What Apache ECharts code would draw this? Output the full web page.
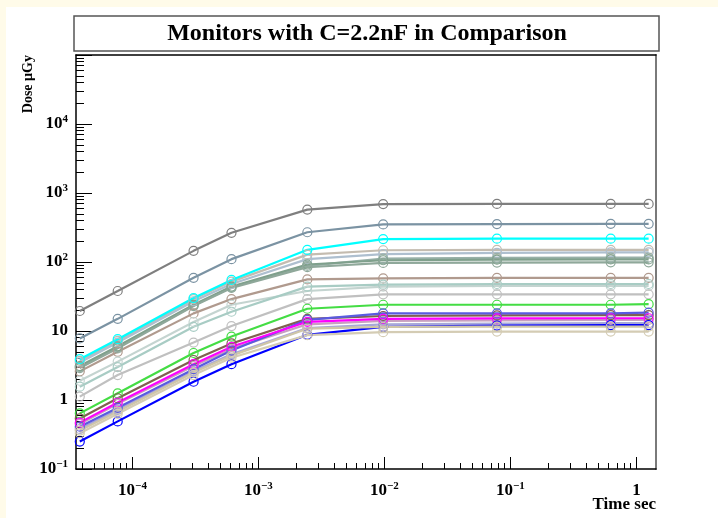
<!DOCTYPE html>
<html>
<head>
<meta charset="utf-8">
<title>Monitors with C=2.2nF in Comparison</title>
<script src="https://cdn.jsdelivr.net/npm/echarts@6/dist/echarts.min.js"></script>
<style>
html, body { margin: 0; padding: 0; background: #fffbe9; }
#chart { width: 718px; height: 518px; }
</style>
</head>
<body>
<div id="chart"></div>
<script>
// measurement times (s)
var times = [3.815e-5, 7.629e-5, 3.052e-4, 6.104e-4, 2.441e-3, 9.766e-3, 7.813e-2, 0.625, 1.25];

// dose per monitor (uGy), one array per curve
var monGray     = [19.5, 38, 145, 265, 575, 690, 695, 695, 695];
var monSlate    = [7.8, 15, 59, 110, 270, 350, 355, 358, 358];
var monCyan     = [3.9, 7.6, 30, 55, 150, 215, 218, 218, 218];
var monTan      = [3.7, 7.2, 29, 52, 128, 148, 150, 150, 150];
var monSteel    = [3.5, 6.8, 27, 48, 110, 130, 136, 138, 138];
var monSage     = [3.0, 5.8, 23.5, 43, 88, 112, 115, 116, 116];
var monSeaGray  = [3.1, 6.0, 24, 44, 92, 106, 108, 109, 109];
var monMoss     = [2.9, 5.6, 23, 42, 84, 97, 98, 99, 99];
var monRose     = [2.6, 5.0, 18, 29, 56, 58, 59, 59, 59];
var monTeal     = [1.56, 3.0, 11.5, 19, 44, 47, 48, 48, 48];
var monMist     = [1.9, 3.6, 13.5, 24, 38, 44, 45, 45, 45];
var monSilver   = [1.12, 2.3, 6.8, 11.8, 29, 34, 34, 34, 34];
var monGreen    = [0.64, 1.25, 4.8, 8.3, 21, 24, 24, 24, 24.5];
var monBlue     = [0.41, 0.77, 2.8, 5.2, 14.5, 18, 18, 18, 18.5];
var monBrown    = [0.54, 1.06, 3.8, 6.6, 15, 16.5, 16.8, 17, 17];
var monMagenta  = [0.47, 0.92, 3.3, 5.9, 13.6, 15, 15.2, 15.3, 15.3];
var monPink     = [0.45, 0.88, 3.1, 5.5, 12.5, 14, 14.3, 14.5, 14.5];
var monLavender = [0.38, 0.72, 2.6, 4.6, 11, 12.5, 12.8, 13, 13];
var monKhaki    = [0.36, 0.68, 2.5, 4.4, 10.8, 11.5, 11.6, 11.6, 11.6];
var monBeige    = [0.33, 0.63, 2.3, 4.1, 8.7, 9.6, 9.8, 9.8, 9.8];
var monDeepBlue = [0.25, 0.49, 1.84, 3.3, 8.8, 11.5, 12, 12.2, 12.2];

var curves = [monGray, monSlate, monTan, monSteel, monSage, monSeaGray, monMoss, monCyan,
              monRose, monMist, monTeal, monSilver, monGreen, monLavender, monPink, monBrown,
              monBlue, monMagenta, monDeepBlue, monKhaki, monBeige];
var colors = ['#7f7f7f', '#7b93a3', '#c4bcb0', '#aebfcf', '#98b0a8', '#7fa08c', '#8fa89a', '#00ffff',
              '#b09a8e', '#c4d4d0', '#a8ccc4', '#c0c0c0', '#44dd44', '#a8a8d8', '#c8a0c0', '#806050',
              '#5a5ae0', '#ff00ff', '#0000ff', '#cfc6a8', '#d4ccb4'];

// axis ranges and labelled decades (log10)
var xRange = [3.56e-5, 1.43];
var yRange = [0.1, 1e5];
var xMajor = [-4, -3, -2, -1, 0];
var yMajor = [-1, 0, 1, 2, 3, 4, 5];
var yLabels = [-1, 0, 1, 2, 3, 4];

var lg = function (v) { return Math.round(Math.log(v) / Math.LN10 * 1e9) / 1e9; };

function minorTicks(k0, k1) {
  var out = [];
  for (var k = k0; k <= k1; k++) {
    for (var m = 2; m <= 9; m++) out.push(lg(m) + k);
  }
  return out;
}
var xMinor = minorTicks(-5, 0);
var yMinor = minorTicks(-1, 4);

var serif = '"Liberation Serif", "DejaVu Serif", serif';

function powLabel(v) {
  v = Math.round(v);
  if (v === 0) return '{b|1}';
  if (v === 1) return '{b|10}';
  return '{b|10}{s|' + String(v).replace('-', '\u2212') + '}';
}
var labelRich = {
  b: { fontFamily: serif, fontWeight: 'bold', fontSize: 17, color: '#000', lineHeight: 20 },
  s: { fontFamily: serif, fontWeight: 'bold', fontSize: 11, color: '#000', lineHeight: 11, verticalAlign: 'top' }
};

function decoAxis(extra, range) {
  var base = {
    type: 'value', min: lg(range[0]), max: lg(range[1]),
    axisLine: { show: false, onZero: false },
    axisTick: { show: false },
    axisLabel: { show: false },
    splitLine: { show: false },
    silent: true
  };
  return echarts.util.merge(base, extra, true);
}

var series = curves.map(function (vals, i) {
  return {
    type: 'line',
    xAxisIndex: 0,
    yAxisIndex: 0,
    data: vals.map(function (v, j) { return [times[j], v]; }),
    symbol: 'circle',
    symbolSize: 9,
    lineStyle: { color: colors[i], width: 2.2 },
    itemStyle: { color: 'rgba(255,255,255,0)', borderColor: colors[i], borderWidth: 1.2 },
    emphasis: { disabled: true },
    clip: false
  };
});

var myChart = echarts.init(document.getElementById('chart'));

var option = {
  animation: false,
  backgroundColor: '#fffbe9',
  grid: { left: 76, right: 62, top: 55, bottom: 49, containLabel: false, outerBoundsMode: 'none' },
  xAxis: [
    { type: 'log', min: xRange[0], max: xRange[1], show: false },
    decoAxis({
      position: 'bottom',
      axisLine: { show: true, lineStyle: { color: '#000', width: 1.5 } },
      axisTick: { show: true, inside: true, length: 12, customValues: xMajor, lineStyle: { color: '#000', width: 1 } },
      axisLabel: { show: true, customValues: xMajor, margin: 12, formatter: powLabel, rich: labelRich }
    }, xRange),
    decoAxis({
      position: 'bottom',
      axisTick: { show: true, inside: true, length: 6, customValues: xMinor, lineStyle: { color: '#000', width: 1 } }
    }, xRange),
    decoAxis({
      position: 'top',
      axisLine: { show: true, lineStyle: { color: '#000', width: 1.5 } }
    }, xRange)
  ],
  yAxis: [
    { type: 'log', min: yRange[0], max: yRange[1], show: false },
    decoAxis({
      position: 'left',
      axisLine: { show: true, lineStyle: { color: '#000', width: 1.5 } },
      axisTick: { show: true, inside: true, length: 16, customValues: yMajor, lineStyle: { color: '#000', width: 1 } },
      axisLabel: { show: true, customValues: yLabels, margin: 8, formatter: powLabel, rich: labelRich }
    }, yRange),
    decoAxis({
      position: 'left',
      axisTick: { show: true, inside: true, length: 8, customValues: yMinor, lineStyle: { color: '#000', width: 1 } }
    }, yRange),
    decoAxis({
      position: 'right',
      axisLine: { show: true, lineStyle: { color: '#7a7a7a', width: 2 } }
    }, yRange)
  ],
  graphic: [
    { type: 'rect', z: -10, silent: true, shape: { x: 6, y: 7, width: 712, height: 511 }, style: { fill: '#fff' } },
    { type: 'rect', silent: true, shape: { x: 74, y: 16, width: 585, height: 35 },
      style: { fill: '#fff', stroke: '#555', lineWidth: 1.5 } },
    { type: 'text', silent: true, x: 367, y: 34,
      style: { text: 'Monitors with C=2.2nF in Comparison', fill: '#000',
               font: 'bold 24px ' + serif, align: 'center', verticalAlign: 'middle',
               textAlign: 'center', textVerticalAlign: 'middle' } },
    { type: 'text', silent: true, x: 28, y: 55, rotation: Math.PI / 2,
      style: { text: 'Dose \u00b5Gy', fill: '#000', font: 'bold 14px ' + serif,
               align: 'right', verticalAlign: 'middle', textAlign: 'right', textVerticalAlign: 'middle' } },
    { type: 'text', silent: true, x: 656, y: 505,
      style: { text: 'Time sec', fill: '#000', font: 'bold 17px ' + serif,
               align: 'right', verticalAlign: 'middle', textAlign: 'right', textVerticalAlign: 'middle' } }
  ],
  series: series
};

myChart.setOption(option);
</script>
</body>
</html>
